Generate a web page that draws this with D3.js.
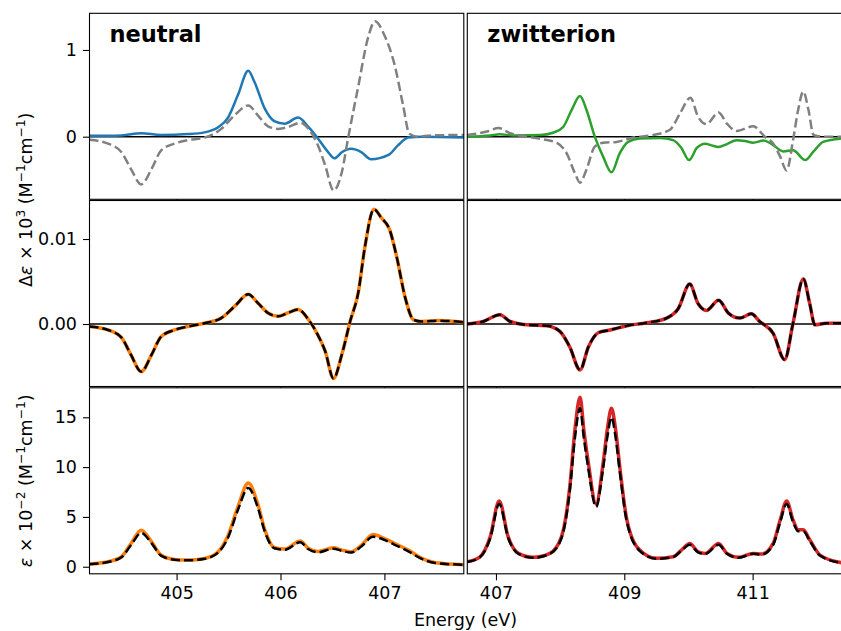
<!DOCTYPE html>
<meta charset="utf-8">
<body style="margin:0">
<script src="https://d3js.org/d3.v7.min.js"></script>
<div id="chart"></div>
<script>

// ---- data: [energy (eV), value] ----

// top row: circular dichroism, delta epsilon x 10^3
const neutralCD = [[404.16,0.01],[404.47,0.015],[404.66,0.04],[404.85,0.02],[405.11,0.03],[405.27,0.05],[405.40,0.11],[405.49,0.21],[405.59,0.48],[405.69,0.76],[405.75,0.63],[405.85,0.32],[405.94,0.18],[406.04,0.15],[406.17,0.22],[406.27,0.11],[406.36,-0.02],[406.46,-0.18],[406.52,-0.25],[406.59,-0.18],[406.68,-0.14],[406.78,-0.18],[406.87,-0.26],[407.04,-0.21],[407.13,-0.10],[407.23,-0.01],[407.36,0],[407.77,-0.01]];
const neutralCDref = [[404.16,-0.035],[404.34,-0.08],[404.47,-0.18],[404.56,-0.37],[404.66,-0.55],[404.76,-0.37],[404.85,-0.16],[404.98,-0.08],[405.11,-0.04],[405.27,-0.01],[405.43,0.09],[405.56,0.25],[405.69,0.36],[405.78,0.25],[405.88,0.12],[405.98,0.09],[406.07,0.11],[406.19,0.16],[406.27,0.09],[406.36,-0.10],[406.43,-0.33],[406.51,-0.62],[406.59,-0.41],[406.65,-0.02],[406.75,0.59],[406.84,1.13],[406.91,1.33],[407.00,1.17],[407.10,0.82],[407.18,0.36],[407.24,0.035],[407.32,0],[407.45,0.015],[407.77,0.02]];
const zwitterCD = [[406.55,0],[406.91,0.015],[407.06,0.027],[407.27,0.015],[407.69,0.02],[407.89,0.046],[408.05,0.115],[408.18,0.31],[408.31,0.47],[408.41,0.31],[408.54,0],[408.67,-0.23],[408.80,-0.41],[408.93,-0.19],[409.06,-0.06],[409.24,-0.02],[409.56,-0.015],[409.76,-0.04],[409.89,-0.13],[410.01,-0.27],[410.13,-0.13],[410.26,-0.08],[410.36,-0.10],[410.47,-0.12],[410.60,-0.085],[410.75,-0.04],[410.88,-0.05],[411.01,-0.07],[411.17,-0.045],[411.30,-0.085],[411.48,-0.17],[411.63,-0.155],[411.82,-0.27],[411.95,-0.17],[412.10,-0.06],[412.39,-0.02]];
const zwitterCDref = [[406.55,0.02],[406.86,0.06],[407.04,0.10],[407.22,0.04],[407.48,0],[407.74,-0.03],[407.95,-0.07],[408.10,-0.19],[408.23,-0.42],[408.31,-0.53],[408.41,-0.38],[408.54,-0.115],[408.67,-0.07],[408.88,-0.06],[409.14,-0.01],[409.45,0.02],[409.71,0.08],[409.87,0.27],[410.03,0.45],[410.15,0.23],[410.28,0.146],[410.47,0.28],[410.60,0.15],[410.75,0.065],[411.01,0.12],[411.19,0],[411.32,-0.077],[411.43,-0.23],[411.53,-0.39],[411.63,-0.04],[411.71,0.31],[411.79,0.52],[411.87,0.31],[411.95,0.02],[412.10,0],[412.39,0]];

// middle row: delta epsilon (two methods, overlapping)
const neutralDE = [[404.16,-0.0003],[404.34,-0.0007],[404.47,-0.0016],[404.56,-0.0036],[404.66,-0.0056],[404.76,-0.0036],[404.85,-0.0015],[404.98,-0.0007],[405.11,-0.0003],[405.27,0.0001],[405.43,0.0007],[405.56,0.0021],[405.69,0.0035],[405.78,0.0025],[405.88,0.0013],[405.98,0.0009],[406.07,0.0013],[406.17,0.0017],[406.27,0.0005],[406.36,-0.0013],[406.43,-0.0032],[406.51,-0.0064],[406.59,-0.0036],[406.67,0.0003],[406.75,0.0038],[406.81,0.0089],[406.90,0.0135],[406.97,0.0125],[407.05,0.0111],[407.12,0.0078],[407.20,0.0031],[407.28,0.0005],[407.36,0.0003],[407.52,0.0004],[407.77,0.0002]];
const zwitterDE = [[406.55,0],[406.80,0.0003],[407.06,0.0011],[407.22,0.0003],[407.48,-0.0001],[407.79,-0.0002],[408.00,-0.0009],[408.15,-0.0027],[408.31,-0.0054],[408.44,-0.0027],[408.60,-0.001],[408.78,-0.0007],[409.04,-0.0002],[409.35,0.00015],[409.66,0.0007],[409.84,0.0018],[410.02,0.0047],[410.15,0.0024],[410.28,0.0016],[410.47,0.0028],[410.62,0.0013],[410.80,0.0007],[410.98,0.0012],[411.11,0.0003],[411.32,-0.0011],[411.50,-0.0042],[411.63,0.0001],[411.79,0.0053],[411.89,0.0024],[411.97,-0.0001],[412.15,0.0001],[412.39,0.0001]];

// bottom row: absorption, epsilon x 10^-2
const neutralAbs = [[404.16,0.27],[404.34,0.5],[404.47,1.0],[404.56,2.3],[404.66,3.67],[404.76,2.5],[404.85,1.17],[404.98,0.73],[405.11,0.67],[405.27,0.83],[405.40,1.5],[405.49,3.0],[405.59,6.0],[405.69,8.4],[405.78,6.33],[405.85,3.67],[405.94,1.93],[406.04,1.77],[406.19,2.57],[406.27,1.83],[406.36,1.53],[406.51,1.9],[406.59,1.67],[406.68,1.5],[406.78,2.17],[406.89,3.23],[407.00,2.83],[407.10,2.33],[407.23,1.67],[407.36,0.83],[407.49,0.4],[407.77,0.2]];
const neutralAbsRef = [[404.16,0.25],[404.34,0.47],[404.47,0.95],[404.56,2.15],[404.66,3.4],[404.76,2.35],[404.85,1.12],[404.98,0.7],[405.11,0.64],[405.27,0.8],[405.40,1.42],[405.49,2.8],[405.59,5.7],[405.69,7.9],[405.78,6.0],[405.85,3.5],[405.94,1.85],[406.04,1.7],[406.19,2.45],[406.27,1.75],[406.36,1.45],[406.51,1.8],[406.59,1.6],[406.68,1.42],[406.78,2.05],[406.89,3.0],[407.00,2.7],[407.10,2.2],[407.23,1.55],[407.36,0.78],[407.49,0.38],[407.77,0.2]];
const zwitterAbs = [[406.55,0.5],[406.75,1.0],[406.91,3.0],[407.05,6.6],[407.19,3.0],[407.35,1.34],[407.58,0.94],[407.84,1.34],[408.02,3.0],[408.15,8.0],[408.23,13.7],[408.31,17.0],[408.37,13.7],[408.44,10.4],[408.56,6.3],[408.67,10.4],[408.74,14.0],[408.80,15.9],[408.86,14.0],[408.93,10.0],[409.04,4.7],[409.24,1.67],[409.50,0.84],[409.76,1.0],[409.89,1.67],[410.02,2.34],[410.15,1.5],[410.26,1.34],[410.47,2.34],[410.60,1.34],[410.78,0.94],[411.01,1.34],[411.14,1.27],[411.32,2.34],[411.43,4.7],[411.53,6.6],[411.63,4.7],[411.71,3.7],[411.79,3.7],[411.89,2.7],[412.05,1.17],[412.39,0.4]];
const zwitterAbsRef = [[406.55,0.48],[406.75,0.95],[406.91,2.85],[407.05,6.3],[407.19,2.9],[407.35,1.3],[407.58,0.9],[407.84,1.3],[408.02,2.85],[408.15,7.6],[408.23,12.9],[408.31,15.9],[408.37,12.9],[408.44,9.8],[408.56,6.0],[408.67,9.9],[408.74,13.2],[408.80,15.0],[408.86,13.2],[408.93,9.5],[409.04,4.5],[409.24,1.6],[409.50,0.8],[409.76,0.97],[409.89,1.6],[410.02,2.2],[410.15,1.45],[410.26,1.3],[410.47,2.2],[410.60,1.3],[410.78,0.9],[411.01,1.3],[411.14,1.22],[411.32,2.2],[411.43,4.5],[411.53,6.3],[411.63,4.5],[411.71,3.55],[411.79,3.55],[411.89,2.6],[412.05,1.12],[412.39,0.38]];

const titles = ["neutral", "zwitterion"];
const xTicks = [[405, 406, 407], [407, 409, 411]];
const yTicks = [[0, 1], [0, 0.01], [0, 5, 10, 15]];

// ---- layout ----
const cols = [
  {x0: 89.5, x1: 463.8, domain: [404.162, 407.764]},
  {x0: 467.3, x1: 841.8, domain: [406.553, 412.39]}
];
const rows = [
  {y0: 13.3, y1: 199.3, domain: [-0.722, 1.423], fmt: d3.format("d"), zero: true},
  {y0: 200.5, y1: 386.5, domain: [-0.00735, 0.01453], fmt: d3.format(".2f"), zero: true},
  {y0: 387.8, y1: 573.8, domain: [-0.71, 17.96], fmt: d3.format("d"), zero: false}
];

const grey = "#808080";
const panels = [
  [ [{d: neutralCD, c: "#1f77b4", w: 2.5}, {d: neutralCDref, c: grey, w: 2.5, dash: "9.25,4"}],
    [{d: zwitterCD, c: "#2ca02c", w: 2.5}, {d: zwitterCDref, c: grey, w: 2.5, dash: "9.25,4"}] ],
  [ [{d: neutralDE, c: "#ff7f0e", w: 3.5}, {d: neutralDE, c: "#000", w: 2.5, dash: "9.25,4"}],
    [{d: zwitterDE, c: "#d62728", w: 3.5}, {d: zwitterDE, c: "#000", w: 2.5, dash: "9.25,4"}] ],
  [ [{d: neutralAbs, c: "#ff7f0e", w: 3.5}, {d: neutralAbsRef, c: "#000", w: 2.5, dash: "9.25,4"}],
    [{d: zwitterAbs, c: "#d62728", w: 3.5}, {d: zwitterAbsRef, c: "#000", w: 2.5, dash: "9.25,4"}] ]
];

const fontSize = 17.5;
const svg = d3.select("#chart").append("svg")
  .attr("width", 841).attr("height", 631)
  .style("font-family", "'DejaVu Sans', sans-serif")
  .style("background", "#fff");

rows.forEach(function(row, ri) {
  cols.forEach(function(col, ci) {
    const x = d3.scaleLinear().domain(col.domain).range([col.x0, col.x1]);
    const y = d3.scaleLinear().domain(row.domain).range([row.y1, row.y0]);
    const g = svg.append("g");
    const clipId = "clip" + ri + ci;
    g.append("clipPath").attr("id", clipId)
      .append("rect")
        .attr("x", col.x0).attr("y", row.y0)
        .attr("width", col.x1 - col.x0).attr("height", row.y1 - row.y0);

    // axes background (covers the ticks of the panel above, like matplotlib)
    g.append("rect")
      .attr("x", col.x0).attr("y", row.y0)
      .attr("width", col.x1 - col.x0).attr("height", row.y1 - row.y0)
      .attr("fill", "#fff");

    const plot = g.append("g").attr("clip-path", "url(#" + clipId + ")");
    if (row.zero) {
      plot.append("line")
        .attr("x1", col.x0).attr("x2", col.x1)
        .attr("y1", y(0)).attr("y2", y(0))
        .attr("stroke", "#000").attr("stroke-width", 1.6);
    }
    const line = d3.line()
      .x(function(d) { return x(d[0]); })
      .y(function(d) { return y(d[1]); })
      .curve(d3.curveMonotoneX);
    panels[ri][ci].forEach(function(s) {
      plot.append("path")
        .attr("d", line(s.d))
        .attr("fill", "none")
        .attr("stroke", s.c)
        .attr("stroke-width", s.w)
        .attr("stroke-dasharray", s.dash || null)
        .attr("stroke-linejoin", "round");
    });

    // frame
    g.append("rect")
      .attr("x", col.x0).attr("y", row.y0)
      .attr("width", col.x1 - col.x0).attr("height", row.y1 - row.y0)
      .attr("fill", "none").attr("stroke", "#000").attr("stroke-width", 1.1);

    // x axis on every panel, labels only on the bottom row
    const xa = g.append("g")
      .attr("transform", "translate(0," + row.y1 + ")")
      .call(d3.axisBottom(x).tickValues(xTicks[ci]).tickSize(6.5).tickPadding(6)
        .tickFormat(ri === 2 ? d3.format("d") : ""));
    xa.select(".domain").remove();
    xa.selectAll("line").attr("stroke", "#000").attr("stroke-width", 1.1);
    xa.selectAll("text").attr("font-size", fontSize).attr("font-family", "'DejaVu Sans', sans-serif").attr("fill", "#000");

    if (ci === 0) {
      const ya = g.append("g")
        .attr("transform", "translate(" + col.x0 + ",0)")
        .call(d3.axisLeft(y).tickValues(yTicks[ri]).tickSize(6.5).tickPadding(6).tickFormat(row.fmt));
      ya.select(".domain").remove();
      ya.selectAll("line").attr("stroke", "#000").attr("stroke-width", 1.1);
      ya.selectAll("text").attr("font-size", fontSize).attr("font-family", "'DejaVu Sans', sans-serif").attr("fill", "#000");
    }

    if (ri === 0) {
      g.append("text")
        .attr("x", col.x0 + 20).attr("y", 41.5)
        .attr("font-size", 22.5).attr("font-weight", "bold")
        .text(titles[ci]);
    }
  });
});

// axis labels
svg.append("text")
  .attr("x", (cols[0].x1 + cols[1].x0) / 2).attr("y", 626)
  .attr("text-anchor", "middle").attr("font-size", fontSize)
  .text("Energy (eV)");

function supLabel(cx, cy, parts) {
  const t = svg.append("text")
    .attr("transform", "translate(" + cx + "," + cy + ") rotate(-90)")
    .attr("text-anchor", "middle").attr("font-size", fontSize);
  parts.forEach(function(p) {
    const ts = t.append("tspan").text(p.t);
    if (p.it) ts.attr("font-style", "italic");
    if (p.sup) ts.attr("font-size", fontSize * 0.7).attr("dy", -7);
    if (p.down) ts.attr("dy", 7);
  });
}
supLabel(31.7, (rows[0].y0 + rows[1].y1) / 2, [
  {t: "Δ"}, {t: "ε", it: true}, {t: " × 10"}, {t: "3", sup: true},
  {t: " (M", down: true}, {t: "−1", sup: true}, {t: "cm", down: true}, {t: "−1", sup: true}, {t: ")", down: true}
]);
supLabel(31.7, (rows[2].y0 + rows[2].y1) / 2, [
  {t: "ε", it: true}, {t: " × 10"}, {t: "−2", sup: true},
  {t: " (M", down: true}, {t: "−1", sup: true}, {t: "cm", down: true}, {t: "−1", sup: true}, {t: ")", down: true}
]);

</script>
</body>
